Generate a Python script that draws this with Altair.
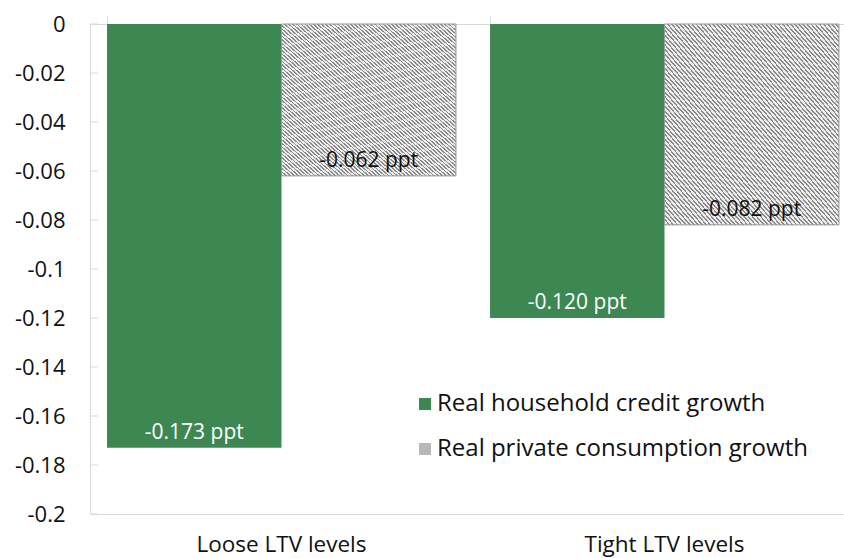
import altair as alt
import pandas as pd

CATEGORIES = ["Loose LTV levels", "Tight LTV levels"]
SERIES = ["Real household credit growth", "Real private consumption growth"]
CREDIT = [-0.173, -0.120]
CONSUMPTION = [-0.062, -0.082]
TICK_VALUES = [0, -0.02, -0.04, -0.06, -0.08, -0.1, -0.12, -0.14, -0.16, -0.18, -0.2]

rows = []
for i, cat in enumerate(CATEGORIES):
    for s, vals in zip(SERIES, [CREDIT, CONSUMPTION]):
        rows.append({"category": cat, "series": s, "value": vals[i],
                     "label": f"{vals[i]:.3f} ppt"})
df = pd.DataFrame(rows)
ticks_df = pd.DataFrame({"tick": TICK_VALUES})

FONT = "Open Sans"
GREEN = "#3d8753"

# diagonal hatch imitation for the consumption bars
N = 85
stops = []
for k in range(N):
    stops.append({"offset": k / N, "color": "#8a8a8a"})
    stops.append({"offset": (k + 0.42) / N, "color": "#8a8a8a"})
    stops.append({"offset": (k + 0.42) / N, "color": "#eeeeee"})
    stops.append({"offset": (k + 1) / N, "color": "#eeeeee"})
hatch = {"gradient": "linear", "x1": 0, "y1": 1, "x2": 1, "y2": 0, "stops": stops}

xscale = alt.Scale(range=[0, 766], paddingInner=0.089, paddingOuter=0.0445)
yscale = alt.Scale(domain=[-0.2, 0], nice=False, zero=True)

yaxis = alt.Axis(orient="left", values=TICK_VALUES, ticks=False, grid=False,
                 domain=True, domainColor="#d9d9d9", labelFontSize=22,
                 labelFont=FONT, labelColor="#111111", labelPadding=25,
                 labelExpr="replace(format(datum.value, '.2~f'), '\u2212', '-')")

base = alt.Chart(df)

bars = base.mark_bar(strokeWidth=0).encode(
    x=alt.X("category:N", sort=CATEGORIES, scale=xscale, title=None,
            axis=alt.Axis(orient="bottom", ticks=False, domainColor="#d9d9d9",
                          labelFontSize=22.5, labelFont=FONT, labelColor="#111111",
                          labelPadding=19, labelAngle=0)),
    xOffset=alt.XOffset("series:N", sort=SERIES),
    y=alt.Y("value:Q", scale=yscale, title=None, axis=yaxis),
    fill=alt.Fill("series:N", sort=SERIES,
                  scale=alt.Scale(domain=SERIES, range=[GREEN, "#b8b8b8"]),
                  legend=alt.Legend(title=None, orient="none", legendX=323, legendY=368,
                                    symbolType="square", symbolSize=144,
                                    symbolStrokeWidth=0, labelFontSize=24,
                                    labelFont=FONT, labelColor="#111111",
                                    labelOffset=0, rowPadding=21, padding=0,
                                    labelLimit=500)),
)

hatched = base.transform_filter(alt.datum.series == SERIES[1]).mark_bar(
    fill=hatch, stroke="#9a9a9a", strokeWidth=1
).encode(
    x=alt.X("category:N", sort=CATEGORIES, scale=xscale, title=None,
            axis=alt.Axis(orient="top", labels=False, ticks=True, tickSize=8,
                          tickColor="#d9d9d9", bandPosition=0,
                          domainColor="#d9d9d9")),
    xOffset=alt.XOffset("series:N", sort=SERIES),
    y=alt.Y("value:Q", scale=yscale, title=None, axis=yaxis),
)

texts = base.mark_text(fontSize=21, font=FONT, baseline="middle", dy=-15).encode(
    x=alt.X("category:N", sort=CATEGORIES, scale=xscale, axis=None),
    xOffset=alt.XOffset("series:N", sort=SERIES),
    y=alt.Y("value:Q", scale=yscale, title=None, axis=yaxis),
    text="label:N",
    color=alt.condition(alt.datum.series == SERIES[0], alt.value("#ffffff"),
                        alt.value("#111111")),
)

yticks = alt.Chart(ticks_df).mark_rule(color="#d9d9d9", strokeWidth=1).encode(
    x=alt.value(0), x2=alt.value(8),
    y=alt.Y("tick:Q", scale=yscale, title=None, axis=yaxis),
)

chart = alt.layer(bars, hatched, texts, yticks).properties(
    width=754, height=490,
    autosize=alt.AutoSizeParams(type="none"),
    padding={"left": 90, "top": 24, "right": 0, "bottom": 44},
).configure_view(stroke=None)

chart.save("out.html", embed_options={"renderer": "svg", "actions": False})
